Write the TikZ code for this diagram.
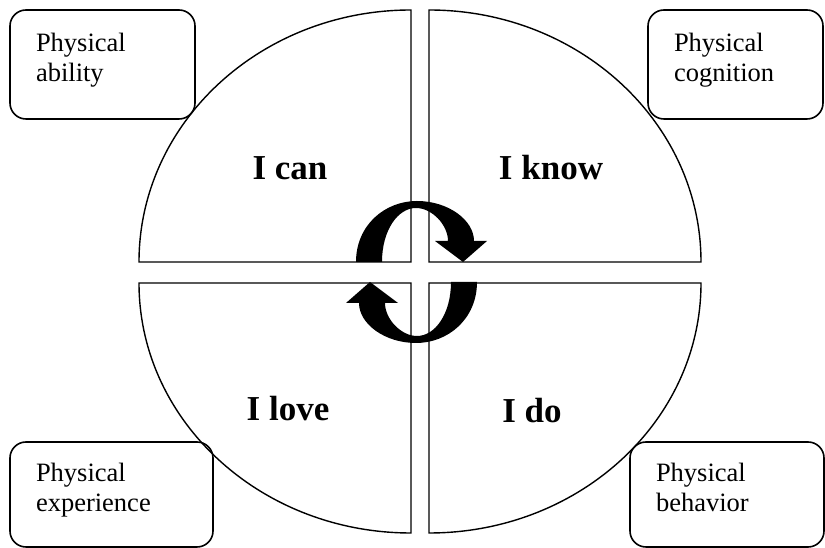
\documentclass[tikz,border=0pt]{standalone}
\usepackage{fontspec}
\setmainfont{Liberation Serif}
\newcommand\firststrut{\rule{0pt}{21pt}}
\newcommand\lastdepth{\rule[-16pt]{0pt}{0pt}}
\newcommand\cyclearrowpath{(356,286) .. controls (356,323) and (385,347) .. (417,347)
  .. controls (448,347) and (474,328) .. (474,307) -- (487,307) -- (463,286) -- (435,307) -- (448,307)
  .. controls (448,323) and (432,340) .. (416,340) .. controls (398,340) and (382,318) .. (382,286) -- cycle}
\begin{document}
\begin{tikzpicture}[x=1pt,y=1pt,
  quad/.style={draw=black, line width=1.4pt, fill=white, line join=miter},
  labelbox/.style={draw=black, line width=1.6pt, rounded corners=16pt, align=left,
    font=\fontsize{26.5}{30}\selectfont, inner xsep=26pt, inner ysep=0pt},
  bigtext/.style={font=\bfseries\fontsize{35}{40}\selectfont, anchor=base},
  arrowfill/.style={fill=black, draw=none}]
\useasboundingbox (0,0) rectangle (825,548);
% quadrants
\path[quad] (411,286) -- (139,286) arc[start angle=180, end angle=90, x radius=272pt, y radius=252pt] -- cycle;
\path[quad] (429,286) -- (429,538) arc[start angle=90, end angle=0, x radius=272pt, y radius=252pt] -- cycle;
\path[quad] (411,265) -- (139,265) arc[start angle=180, end angle=270, x radius=272pt, y radius=250pt] -- cycle;
\path[quad] (429,265) -- (429,15) arc[start angle=270, end angle=360, x radius=272pt, y radius=250pt] -- cycle;
% quadrant labels
\node[bigtext] (can)  at (290,368) {I can};
\node[bigtext] (know) at (551,368) {I know};
\node[bigtext] (love) at (288,127) {I love};
\node[bigtext] (do)   at (532,125) {I do};
% cycle arrows
\fill[arrowfill] \cyclearrowpath;
\begin{scope}[rotate around={180:(416.5,276)}]
\fill[arrowfill] \cyclearrowpath;
\end{scope}
% corner boxes
\node[labelbox, text width=133pt, minimum width=185pt, minimum height=109pt] (ability) at (102.5,483.5) {\firststrut Physical\\ability\lastdepth};
\node[labelbox, text width=123pt, minimum width=175pt, minimum height=109pt] (cognition) at (735.5,483.5) {\firststrut Physical\\cognition\lastdepth};
\node[labelbox, text width=151pt, minimum width=203pt, minimum height=105pt] (experience) at (111.5,53.5) {\firststrut Physical\\experience\lastdepth};
\node[labelbox, text width=142pt, minimum width=194pt, minimum height=105pt] (behavior) at (727,53.5) {\firststrut Physical\\behavior\lastdepth};
\end{tikzpicture}
\end{document}
